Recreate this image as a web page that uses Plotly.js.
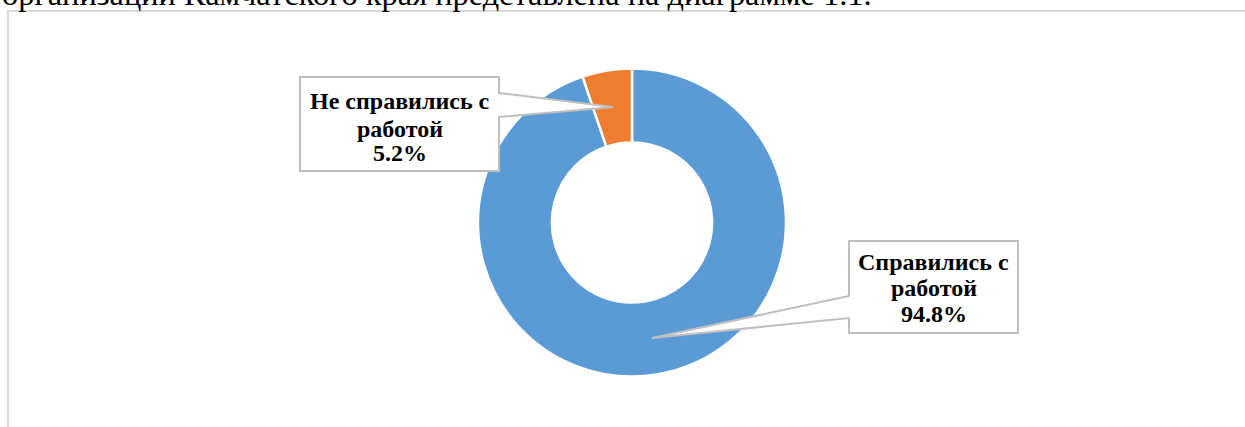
<!DOCTYPE html>
<html>
<head>
<meta charset="utf-8">
<script src="https://cdn.plot.ly/plotly-3.0.1.min.js"></script>
<style>html,body{margin:0;padding:0;background:#fff;}#chart{width:1245px;height:427px;}</style>
</head>
<body>
<div id="chart"></div>
<script>
const categories = ["Справились с работой", "Не справились с работой"];
const values = [94.8, 5.2];
const labelLines = [["Справились с", "работой", "94.8%"], ["Не справились с", "работой", "5.2%"]];
const colors = ["#5B9BD5", "#ED7D31"];
const headerText = "организаций Камчатского края представлена на диаграмме 1.1.";

const W = 1245, H = 427;
const px = x => x / W;
const py = y => 1 - y / H;
function pathOf(pts) {
  return pts.map((p, i) => (i ? "L" : "M") + px(p[0]).toFixed(5) + "," + py(p[1]).toFixed(5)).join(" ") + " Z";
}
const serif = "Liberation Serif";
const call1 = pathOf([[300,77],[499,77],[499,93],[613,107],[499,117],[499,171],[300,171]]);
const call2 = pathOf([[849,241],[1018,241],[1018,333],[849,333],[849,318],[652,338],[849,296]]);

const cx = 632, cy = 222.5, R = 154;
const trace = {
  type: "pie", labels: categories, values: values, hole: 0.52, sort: false,
  direction: "clockwise", rotation: 0, textinfo: "none",
  marker: {colors: colors, line: {color: "#ffffff", width: 2.5}},
  domain: {x: [px(cx - R), px(cx + R)], y: [py(cy + R), py(cy - R)]},
  showlegend: false
};
// label line positions (pixel centres)
const labelPos = [{x: 933.5, ys: [262, 288, 314]}, {x: 399.5, ys: [100.5, 128.5, 153]}];
const labelAnn = [];
labelLines.forEach((lines, k) => {
  lines.forEach((t, j) => {
    labelAnn.push({xref: "paper", yref: "paper", x: px(labelPos[k].x), y: py(labelPos[k].ys[j]),
      xanchor: "center", yanchor: "middle", text: t, showarrow: false,
      font: {family: serif, size: 24, weight: 700, color: "#000000"}});
  });
});

const layout = {
  width: W, height: H, margin: {l: 0, r: 0, t: 0, b: 0}, paper_bgcolor: "#ffffff", showlegend: false,
  shapes: [
    {type: "rect", xref: "paper", yref: "paper", x0: px(8), x1: px(1300), y0: py(11), y1: py(500),
     line: {color: "#d9d9d9", width: 2}, fillcolor: "rgba(0,0,0,0)", layer: "below"},
    {type: "path", xref: "paper", yref: "paper", path: call1, fillcolor: "#ffffff", line: {color: "#bfbfbf", width: 2}, layer: "above"},
    {type: "path", xref: "paper", yref: "paper", path: call2, fillcolor: "#ffffff", line: {color: "#bfbfbf", width: 2}, layer: "above"}
  ],
  annotations: labelAnn.concat([
    {xref: "paper", yref: "paper", x: 0, y: py(-6), xanchor: "left", yanchor: "middle",
     text: headerText, showarrow: false, font: {family: serif, size: 32.4, color: "#000000"}}
  ])
};
Plotly.newPlot("chart", [trace], layout, {displayModeBar: false, staticPlot: true});
</script>
</body>
</html>
